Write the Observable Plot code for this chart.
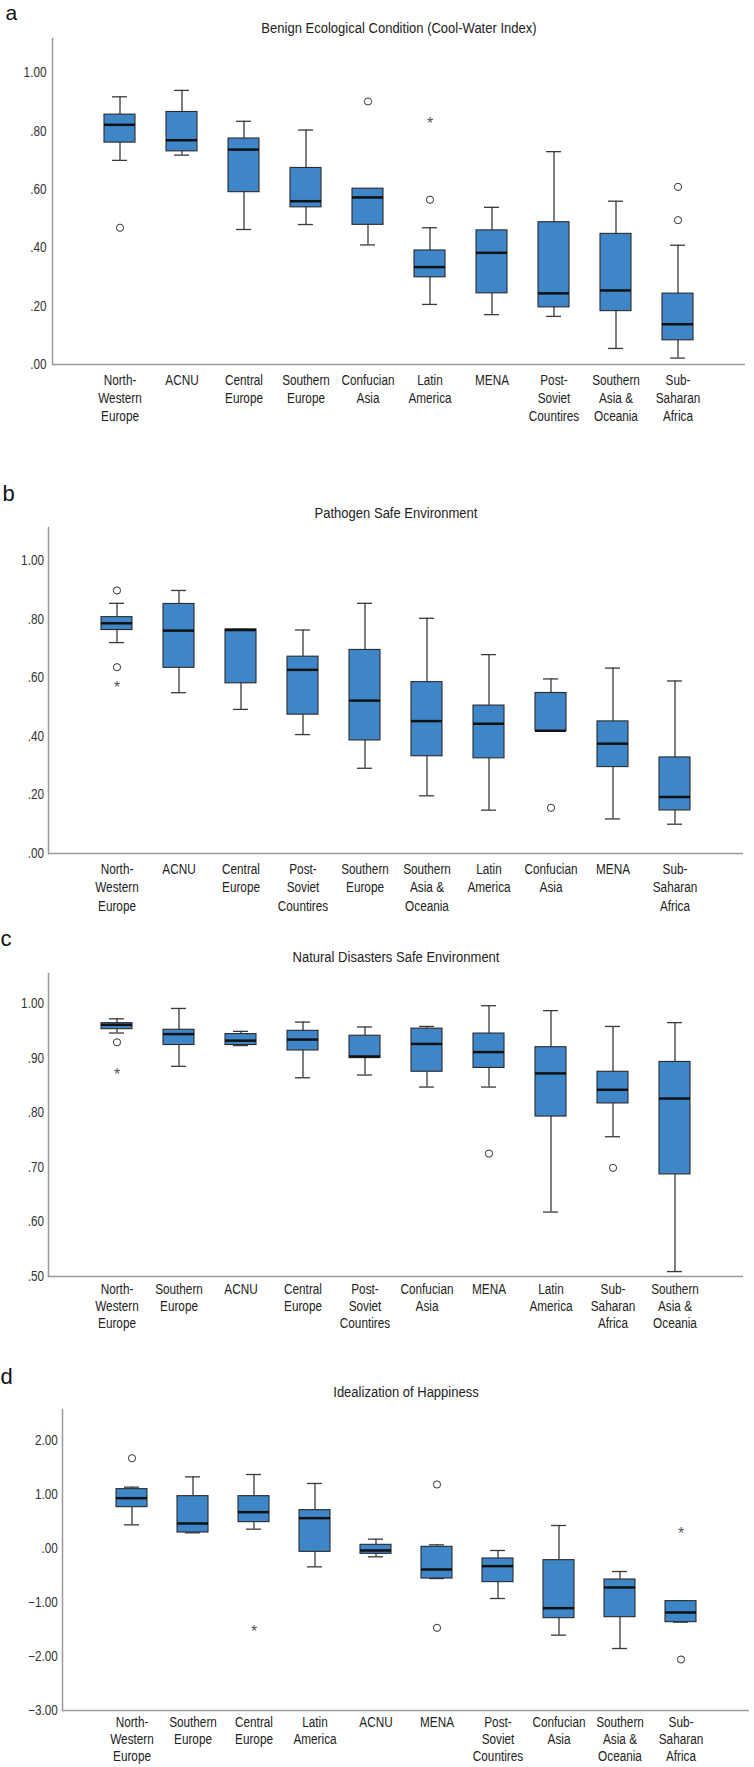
<!DOCTYPE html>
<html><head><meta charset="utf-8">
<script src="https://cdn.jsdelivr.net/npm/d3@7"></script>
<script src="https://cdn.jsdelivr.net/npm/@observablehq/plot@0.6"></script>
<style>
body{margin:0;background:#fff;}
#root{position:relative;width:754px;height:1767px;overflow:hidden;}
#root > svg{position:absolute;left:0;}
</style></head><body><div id="root"></div>
<script>
const FONT = '"Liberation Sans",Arial,Roboto,sans-serif';
const NARROW = 0.84; // horizontal compression to mimic the condensed face

// Tick labels for the categories
const catLabels = {
  "North-Western Europe": "North-\nWestern\nEurope",
  "ACNU": "ACNU",
  "Central Europe": "Central\nEurope",
  "Southern Europe": "Southern\nEurope",
  "Confucian Asia": "Confucian\nAsia",
  "Latin America": "Latin\nAmerica",
  "MENA": "MENA",
  "Post-Soviet Countires": "Post-\nSoviet\nCountires",
  "Southern Asia & Oceania": "Southern\nAsia &\nOceania",
  "Sub-Saharan Africa": "Sub-\nSaharan\nAfrica"
};

// Panel a: Benign Ecological Condition
const aCats = ["North-Western Europe","ACNU","Central Europe","Southern Europe","Confucian Asia","Latin America","MENA","Post-Soviet Countires","Southern Asia & Oceania","Sub-Saharan Africa"];
const aLow  = [0.700, 0.718, 0.463, 0.480, 0.410, 0.206, 0.171, 0.165, 0.055, 0.022];
const aQ1   = [0.761, 0.731, 0.591, 0.539, 0.479, 0.299, 0.244, 0.196, 0.183, 0.083];
const aMed  = [0.822, 0.769, 0.737, 0.560, 0.573, 0.334, 0.383, 0.244, 0.254, 0.138];
const aQ3   = [0.857, 0.866, 0.775, 0.674, 0.603, 0.391, 0.460, 0.488, 0.448, 0.243];
const aHigh = [0.918, 0.940, 0.834, 0.804, 0.603, 0.469, 0.539, 0.730, 0.560, 0.409];
const aCircleCats = ["North-Western Europe","Confucian Asia","Latin America","Sub-Saharan Africa","Sub-Saharan Africa"];
const aCircleVals = [0.469, 0.902, 0.565, 0.609, 0.495];
const aStarCats = ["Latin America"];
const aStarVals = [0.839];
const aTicks = [0, 0.2, 0.4, 0.6, 0.8, 1.0];

// Panel b: Pathogen Safe Environment
const bCats = ["North-Western Europe","ACNU","Central Europe","Post-Soviet Countires","Southern Europe","Southern Asia & Oceania","Latin America","Confucian Asia","MENA","Sub-Saharan Africa"];
const bLow  = [0.720, 0.549, 0.492, 0.406, 0.291, 0.197, 0.148, 0.418, 0.118, 0.100];
const bQ1   = [0.763, 0.634, 0.581, 0.474, 0.386, 0.332, 0.325, 0.418, 0.295, 0.147];
const bMed  = [0.786, 0.761, 0.763, 0.627, 0.522, 0.452, 0.443, 0.419, 0.375, 0.193];
const bQ3   = [0.807, 0.852, 0.765, 0.672, 0.695, 0.585, 0.505, 0.548, 0.451, 0.328];
const bHigh = [0.854, 0.898, 0.765, 0.763, 0.854, 0.803, 0.679, 0.596, 0.633, 0.589];
const bCircleCats = ["North-Western Europe","North-Western Europe","Confucian Asia"];
const bCircleVals = [0.898, 0.636, 0.156];
const bStarCats = ["North-Western Europe"];
const bStarVals = [0.579];
const bTicks = [0, 0.2, 0.4, 0.6, 0.8, 1.0];

// Panel c: Natural Disasters Safe Environment
const cCats = ["North-Western Europe","Southern Europe","ACNU","Central Europe","Post-Soviet Countires","Confucian Asia","MENA","Latin America","Sub-Saharan Africa","Southern Asia & Oceania"];
const cLow  = [0.946, 0.885, 0.923, 0.864, 0.869, 0.847, 0.847, 0.618, 0.756, 0.509];
const cQ1   = [0.953, 0.924, 0.924, 0.914, 0.900, 0.875, 0.882, 0.793, 0.817, 0.687];
const cMed  = [0.961, 0.944, 0.932, 0.934, 0.903, 0.926, 0.911, 0.872, 0.842, 0.826];
const cQ3   = [0.964, 0.952, 0.944, 0.950, 0.941, 0.954, 0.945, 0.920, 0.875, 0.893];
const cHigh = [0.972, 0.991, 0.949, 0.966, 0.957, 0.958, 0.996, 0.987, 0.958, 0.965];
const cCircleCats = ["North-Western Europe","MENA","Sub-Saharan Africa"];
const cCircleVals = [0.929, 0.725, 0.699];
const cStarCats = ["North-Western Europe"];
const cStarVals = [0.877];
const cTicks = [0.5, 0.6, 0.7, 0.8, 0.9, 1.0];

// Panel d: Idealization of Happiness
const dCats = ["North-Western Europe","Southern Europe","Central Europe","Latin America","ACNU","MENA","Post-Soviet Countires","Confucian Asia","Southern Asia & Oceania","Sub-Saharan Africa"];
const dLow  = [0.438, 0.290, 0.358, -0.340, -0.154, -0.556, -0.926, -1.605, -1.852, -1.364];
const dQ1   = [0.765, 0.296, 0.488, -0.062, -0.099, -0.556, -0.623, -1.290, -1.272, -1.364];
const dMed  = [0.932, 0.463, 0.673, 0.562, -0.037, -0.389, -0.327, -1.105, -0.722, -1.185];
const dQ3   = [1.099, 0.969, 0.969, 0.710, 0.068, 0.031, -0.185, -0.216, -0.574, -0.975];
const dHigh = [1.136, 1.327, 1.370, 1.204, 0.173, 0.068, -0.037, 0.426, -0.426, -0.975];
const dCircleCats = ["North-Western Europe","MENA","MENA","Sub-Saharan Africa"];
const dCircleVals = [1.672, 1.185, -1.469, -2.056];
const dStarCats = ["Central Europe","Sub-Saharan Africa"];
const dStarVals = [-1.469, 0.346];
const dTicks = [-3, -2, -1, 0, 1, 2];

const fmt = (v) => d3.format(".2f")(v).replace(/^(-?)0\./, "$1.").replace("-", "\u2212");

function panel(o) {
  const rows = o.cats.map((c, i) => ({cat: c, low: o.low[i], q1: o.q1[i], med: o.med[i], q3: o.q3[i], high: o.high[i]}));
  const circles = o.circleCats.map((c, i) => ({cat: c, v: o.circleVals[i]}));
  const stars = o.starCats.map((c, i) => ({cat: c, v: o.starVals[i]}));
  const W = "#3a3a3a";
  const marks = [
    Plot.ruleX(rows, {x: "cat", y1: "low", y2: "q1", stroke: W, strokeWidth: 1.3}),
    Plot.ruleX(rows, {x: "cat", y1: "q3", y2: "high", stroke: W, strokeWidth: 1.3}),
    Plot.tickY(rows, {x: "cat", y: "low", insetLeft: 8, insetRight: 8, stroke: W, strokeWidth: 1.3}),
    Plot.tickY(rows, {x: "cat", y: "high", insetLeft: 8, insetRight: 8, stroke: W, strokeWidth: 1.3}),
    Plot.barY(rows, {x: "cat", y1: "q1", y2: "q3", fill: "#3f86c8", stroke: "#2a2a2a", strokeWidth: 1.1}),
    Plot.tickY(rows, {x: "cat", y: "med", stroke: "#111", strokeWidth: 2.5}),
    Plot.dot(circles, {x: "cat", y: "v", r: 3.6, stroke: "#333", fill: "white", strokeWidth: 1}),
    Plot.text(stars, {x: "cat", y: "v", text: () => "*", fontSize: 16, fill: "#555", dy: 4, className: "keep"}),
    Plot.ruleY([o.yDomain[0]], {stroke: "#9a9a9a", strokeWidth: 1.5}),
    Plot.frame({anchor: "left", stroke: "#9a9a9a", strokeWidth: 1.5}),
    Plot.axisY({ticks: o.yTicks, tickFormat: fmt, tickSize: 0, tickPadding: o.yPad, fontSize: 14, fill: "#333", label: null}),
    Plot.axisX({tickSize: 0, tickPadding: o.xPad, tickFormat: (c) => catLabels[c], lineHeight: o.lineH, fontSize: 14, fill: "#222", label: null}),
    Plot.text([o.title], {frameAnchor: "top", dy: o.titleY - o.mt, lineAnchor: "middle", fontSize: 15.5, fill: "#222"}),
    Plot.text([o.letter], {frameAnchor: "top-left", dx: o.letterX - o.ml, dy: o.letterY - o.mt, textAnchor: "start", lineAnchor: "bottom", fontSize: o.letterSize, fill: "#111", className: "keep"})
  ];
  if (o.inwardTicks) {
    marks.push(Plot.axisX({tickSize: 6, dy: -6, tickFormat: () => "", stroke: "#bbb", label: null}));
  }
  const svg = Plot.plot({
    width: 754,
    height: o.height,
    marginTop: o.mt, marginBottom: o.mb, marginLeft: o.ml, marginRight: o.mr,
    style: {fontFamily: FONT, background: "white", overflow: "visible"},
    x: {type: "band", domain: o.cats, paddingInner: 0.5, paddingOuter: 0.81},
    y: {domain: o.yDomain},
    marks
  });
  svg.style.top = o.top + "px";
  return svg;
}

function condense(svg) {
  svg.querySelectorAll("text").forEach((t) => {
    if (t.closest(".keep")) return;
    const spans = t.querySelectorAll("tspan");
    const els = spans.length ? Array.from(spans) : [t];
    els.forEach((el) => {
      const L = el.getComputedTextLength();
      if (L > 0) {
        el.setAttribute("textLength", (L * NARROW).toFixed(2));
        el.setAttribute("lengthAdjust", "spacingAndGlyphs");
      }
    });
  });
}

const root = document.getElementById("root");
const panels = [
  panel({
    cats: aCats, low: aLow, q1: aQ1, med: aMed, q3: aQ3, high: aHigh,
    circleCats: aCircleCats, circleVals: aCircleVals, starCats: aStarCats, starVals: aStarVals,
    yDomain: [0, 1.118], yTicks: aTicks, top: 0, height: 470, mt: 38, mb: 106, ml: 52, mr: 9,
    yPad: 6, xPad: 7, lineH: 1.31, title: "Benign Ecological Condition (Cool-Water Index)", titleY: 28,
    letter: "a", letterX: 5, letterY: 19, letterSize: 21
  }),
  panel({
    cats: bCats, low: bLow, q1: bQ1, med: bMed, q3: bQ3, high: bHigh,
    circleCats: bCircleCats, circleVals: bCircleVals, starCats: bStarCats, starVals: bStarVals,
    yDomain: [0, 1.113], yTicks: bTicks, top: 470, height: 445, mt: 57, mb: 62, ml: 48, mr: 11,
    yPad: 4.5, xPad: 7, lineH: 1.32, title: "Pathogen Safe Environment", titleY: 43,
    letter: "b", letterX: 2, letterY: 30, letterSize: 22
  }),
  panel({
    cats: cCats, low: cLow, q1: cQ1, med: cMed, q3: cQ3, high: cHigh,
    circleCats: cCircleCats, circleVals: cCircleVals, starCats: cStarCats, starVals: cStarVals,
    yDomain: [0.5, 1.055], yTicks: cTicks, top: 915, height: 420, mt: 58, mb: 59, ml: 48, mr: 11,
    yPad: 4.5, xPad: 6, lineH: 1.2, title: "Natural Disasters Safe Environment", titleY: 42,
    letter: "c", letterX: 0, letterY: 30, letterSize: 22
  }),
  panel({
    cats: dCats, low: dLow, q1: dQ1, med: dMed, q3: dQ3, high: dHigh,
    circleCats: dCircleCats, circleVals: dCircleVals, starCats: dStarCats, starVals: dStarVals,
    yDomain: [-3, 2.574], yTicks: dTicks, top: 1335, height: 432, mt: 74, mb: 57, ml: 62, mr: 5,
    yPad: 4.7, xPad: 5, lineH: 1.2, title: "Idealization of Happiness", titleY: 57,
    letter: "d", letterX: 0, letterY: 48, letterSize: 22
  })
];
panels.forEach((svg) => { root.append(svg); condense(svg); });
</script></body></html>
